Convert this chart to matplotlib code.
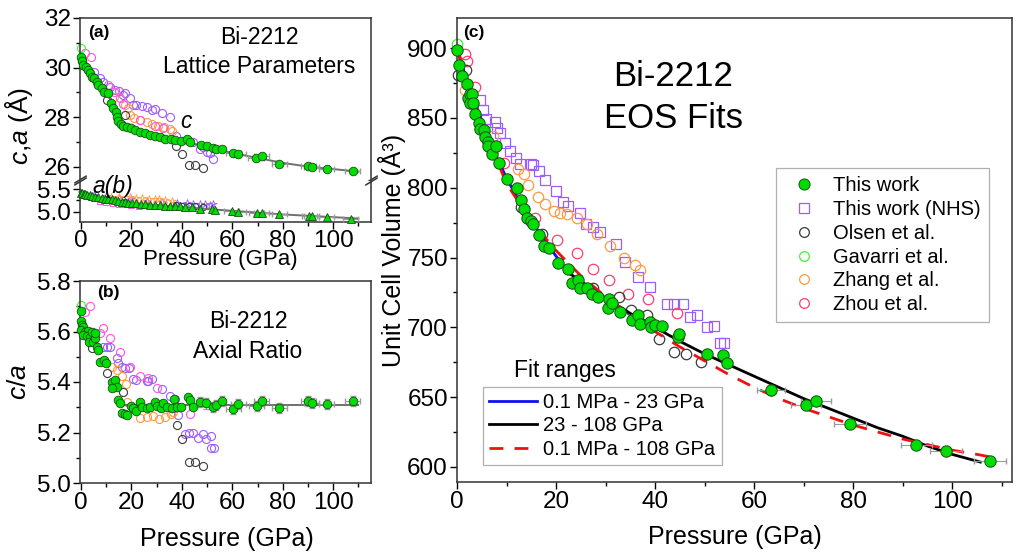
import numpy as np
import matplotlib
matplotlib.use('Agg')
import matplotlib.pyplot as plt
from matplotlib.ticker import MultipleLocator, FormatStrFormatter
from matplotlib.lines import Line2D

plt.rcParams['font.family'] = ['Liberation Sans', 'DejaVu Sans']
plt.rcParams['mathtext.fontset'] = 'custom'
plt.rcParams['mathtext.rm'] = 'Liberation Sans'
plt.rcParams['mathtext.it'] = 'Liberation Sans:italic'

W, H = 1024, 554

# ---------------- panel (a): c and a lattice parameters ----------------
c_tw_P = [0, 0.5, 0.9, 1.8, 2.6, 3.6, 4.2, 5.3, 6.2, 6.9, 8.2, 9.3, 10.8, 11.9, 12.8,
          13.8, 14.1, 14.8, 15.9, 16.8, 18.1, 19.8, 21.4, 23.4, 25.4, 27.4, 29.4, 31.3, 33.3, 35.7,
          37.3, 39.7, 41.9, 43.3, 47.6, 49.8, 52.5, 53.4, 55.8, 60.4, 62.4, 69.4, 71.7, 78.6, 90.2,
          91.5, 97.5, 107.7]
c_tw = [30.44, 30.27, 30.1, 30.03, 29.9, 29.77, 29.63, 29.56, 29.43, 29.29, 29.16, 29.02, 28.96, 28.55, 28.35,
        28.21, 28.01, 27.85, 27.74, 27.64, 27.58, 27.54, 27.47, 27.4, 27.34, 27.27, 27.23, 27.18, 27.1, 27.1,
        27.07, 27.04, 27.1, 27.0, 26.88, 26.82, 26.77, 26.71, 26.73, 26.53, 26.49, 26.33, 26.44, 26.1, 26.02,
        25.97, 25.9, 25.83]
c_nhs_P = [5.2, 7.5, 8.9, 11.5, 13.5, 15.0, 16.8, 17.5, 19.4, 20.7, 22.0, 24.0, 26.0, 28.0, 29.5,
           32.0, 35.3, 37.5, 41.9, 44.6, 47.2, 48.5, 49.9, 51.2, 52.5]
c_nhs = [29.8, 29.56, 29.43, 29.2, 29.1, 29.05, 28.89, 28.96, 28.76, 28.48, 28.48, 28.44, 28.39, 28.28, 28.31,
         28.17, 28.01, 27.25, 27.07, 27.0, 26.73, 26.8, 26.6, 26.53, 26.3]
c_zhang_P = [13.2, 17.5, 18.8, 19.4, 21.1, 23.4, 26.0, 28.3, 30.7, 33.0, 35.3, 36.0]
c_zhang = [28.82, 28.48, 28.35, 28.08, 27.95, 27.88, 27.81, 27.74, 27.64, 27.58, 27.5, 27.45]
c_zhou_P = [1.6, 3.8, 10.8, 13.2, 15.5, 16.8, 23.4, 29.4, 32.5]
c_zhou = [30.58, 30.42, 29.29, 29.02, 28.76, 28.52, 27.9, 27.62, 27.55]
c_olsen_P = [0.5, 10.2, 17.5, 37.5, 40.0, 42.8, 45.1, 48.3]
c_olsen = [30.3, 28.69, 28.08, 26.85, 26.5, 26.08, 26.06, 25.94]
c_gav_P = [0]
c_gav = [30.78]
c_fit_P = [0, 3, 6, 9, 11, 12, 13, 14, 15, 16, 18, 20, 25, 30, 35, 40, 50, 60, 70, 80, 90, 100, 110]
c_fit = [30.42, 29.95, 29.5, 29.12, 28.85, 28.6, 28.35, 28.12, 27.9, 27.72, 27.58, 27.5, 27.35, 27.22,
         27.12, 27.03, 26.8, 26.55, 26.35, 26.15, 26.0, 25.9, 25.8]

a_tw_P = [0, 0.5, 1.2, 1.6, 2.5, 3.6, 4.5, 5.6, 6.8, 8.2, 9.5, 10.8, 12.2, 13.5, 14.8,
          16.1, 17.4, 18.8, 20.4, 22.0, 23.8, 25.4, 27.4, 29.4, 31.4, 33.3, 35.3, 37.3, 39.3, 41.3,
          44.0, 47.2, 51.8, 53.2, 59.8, 62.4, 69.7, 71.7, 78.6, 90.6, 91.5, 97.5, 107.0]
a_tw = [5.42, 5.41, 5.40, 5.39, 5.38, 5.37, 5.35, 5.33, 5.32, 5.30, 5.29, 5.27, 5.27, 5.26, 5.24,
        5.22, 5.21, 5.20, 5.20, 5.19, 5.17, 5.16, 5.15, 5.15, 5.14, 5.13, 5.13, 5.13, 5.12, 5.11,
        5.10, 5.06, 5.05, 5.04, 5.02, 5.0, 4.98, 4.98, 4.94, 4.90, 4.90, 4.89, 4.85]
a_zhou_P = [0.8, 4.0, 7.5, 10.0, 12.5, 15.0, 17.5, 20.0, 23.0]
a_zhou = [5.40, 5.33, 5.24, 5.21, 5.19, 5.18, 5.16, 5.15, 5.13]
a_zhang_P = [12.0, 15.0, 19.4, 22.0, 24.0, 27.0, 29.4, 31.0, 33.3, 36.0]
a_zhang = [5.33, 5.33, 5.32, 5.31, 5.30, 5.29, 5.28, 5.27, 5.26, 5.24]
a_nhs_P = [5.0, 10.0, 15.0, 20.0, 26.0, 32.0, 38.0, 42.0, 44.6, 47.0, 49.0, 51.0, 52.5]
a_nhs = [5.38, 5.34, 5.31, 5.27, 5.24, 5.22, 5.19, 5.19, 5.18, 5.17, 5.18, 5.15, 5.16]
a_olsen_P = [0.5, 10.2, 17.5, 37.5, 40.0, 42.8, 45.1, 48.3]
a_olsen = [5.40, 5.29, 5.22, 5.14, 5.12, 5.13, 5.13, 5.11]
a_gav_P = [0]
a_gav = [5.40]
a_fit_P = [0, 10, 20, 30, 40, 50, 60, 70, 80, 90, 100, 110]
a_fit = [5.42, 5.28, 5.2, 5.15, 5.11, 5.06, 5.02, 4.98, 4.94, 4.91, 4.88, 4.85]

# ---------------- panel (b): c/a ----------------
r_tw_P = [0, 0, 0.3, 0.9, 0, 1.6, 2.6, 0.9, 2.3, 3.6, 3.2, 4.9, 5.6, 4.2, 5.6,
          6.2, 6.9, 7.5, 9.3, 9.8, 12.2, 13.5, 14.1, 12.4, 14.6, 15.5, 16.1, 17.5, 18.1, 19.8,
          20.8, 22.0, 23.4, 24.1, 26.0, 27.4, 29.4, 30.0, 31.7, 32.7, 34.0, 36.0, 37.0, 37.9, 39.7,
          42.3, 43.3, 44.6, 47.2, 49.6, 52.5, 53.4, 55.8, 60.4, 62.4, 69.7, 71.7, 78.6, 90.2, 91.5,
          97.5, 107.7]
r_tw = [5.682, 5.643, 5.626, 5.619, 5.606, 5.600, 5.603, 5.586, 5.582, 5.577, 5.560, 5.560, 5.573, 5.600, 5.593,
        5.540, 5.527, 5.480, 5.487, 5.474, 5.400, 5.407, 5.381, 5.375, 5.329, 5.316, 5.278, 5.273, 5.269, 5.305,
        5.296, 5.286, 5.322, 5.300, 5.296, 5.302, 5.322, 5.305, 5.296, 5.318, 5.300, 5.296, 5.331, 5.300, 5.300,
        5.339, 5.329, 5.300, 5.322, 5.315, 5.302, 5.309, 5.326, 5.292, 5.313, 5.306, 5.326, 5.296, 5.326, 5.318,
        5.313, 5.326]
r_nhs_P = [8.9, 10.2, 11.5, 14.2, 14.8, 16.1, 17.5, 19.1, 20.8, 22.0, 26.0, 26.7, 28.0, 32.0, 35.3,
           37.3, 38.6, 41.3, 43.0, 44.6, 46.5, 48.5, 49.6, 51.4, 51.6, 52.8]
r_nhs = [5.54, 5.537, 5.537, 5.494, 5.476, 5.46, 5.454, 5.454, 5.41, 5.408, 5.405, 5.405, 5.41, 5.372, 5.345,
         5.331, 5.269, 5.196, 5.2, 5.2, 5.18, 5.194, 5.173, 5.186, 5.137, 5.137]
r_zhou_P = [1.6, 3.6, 7.5, 8.9, 11.5, 15.5, 19.4, 23.4, 26.7, 30.0, 43.3]
r_zhou = [5.678, 5.70, 5.596, 5.613, 5.573, 5.52, 5.46, 5.424, 5.415, 5.377, 5.272]
r_zhang_P = [12.2, 14.1, 16.1, 17.9, 18.1, 22.0, 23.4, 26.0, 28.7, 31.0, 33.3, 35.6, 36.6]
r_zhang = [5.46, 5.448, 5.424, 5.392, 5.322, 5.296, 5.256, 5.263, 5.266, 5.252, 5.263, 5.273, 5.282]
r_olsen_P = [4.2, 10.2, 12.8, 16.8, 37.9, 40.0, 43.0, 45.2, 48.3]
r_olsen = [5.533, 5.434, 5.384, 5.362, 5.23, 5.174, 5.084, 5.082, 5.069]
r_gav_P = [0]
r_gav = [5.705]
r_fit_P = [15.5, 110]
r_fit = [5.31, 5.31]

# ---------------- panel (c): unit cell volume ----------------
V_tw_P = [0, 0.5, 1.1, 2.0, 2.3, 2.6, 2.7, 3.0, 3.2, 3.7, 4.4, 4.6, 5.5, 5.7, 6.2,
          6.3, 7.0, 7.9, 8.5, 10.0, 12.2, 12.9, 13.5, 14.1, 14.9, 15.4, 16.6, 17.6, 18.6, 20.3,
          22.5, 23.3, 24.5, 24.8, 26.2, 27.3, 28.5, 30.4, 30.7, 31.4, 32.9, 35.3, 36.6, 36.9, 39.0,
          39.1, 40.0, 41.4, 44.7, 44.9, 50.4, 53.7, 54.5, 63.4, 70.5, 72.5, 79.4, 92.8, 98.8, 107.7]
V_tw = [898.6, 888, 880, 874, 864, 867, 861, 867, 861, 853, 846.5, 842, 841.5, 836, 832.6,
        830, 824, 830, 817.5, 806, 799.5, 791.4, 784.7, 778, 776, 774, 766, 758, 756.7, 746.3,
        741.5, 732, 734, 728, 728, 724, 722, 714, 720, 717.5, 711, 705, 709, 702.4, 703.8,
        700, 701.4, 701, 693, 695, 681, 680, 674.6, 655, 644.5, 647.3, 630.5, 616, 611.7, 604.5]
V_tw_Perr = [0] * 50 + [1.0, 1.0, 1.0, 2.9, 3.0, 3.1, 3.2, 3.2, 3.2, 3.2]
V_nhs_P = [4.6, 5.2, 5.9, 7.7, 8.0, 8.7, 9.7, 10.7, 12.0, 12.7, 15.0, 15.4, 16.6, 17.8, 19.9,
           21.5, 22.5, 24.8, 26.0, 27.4, 28.9, 32.1, 34.0, 36.6, 39.0, 42.4, 43.9, 45.7, 47.0, 48.5,
           50.4, 52.0, 53.1, 54.0]
V_nhs = [862.6, 856, 849.4, 847, 843, 839, 832, 826.6, 821, 817, 817, 816.5, 811.7, 805.5, 797.4,
         789.5, 787, 781.8, 774, 772, 768.4, 760, 747, 736, 729, 716.7, 716.7, 716.7, 707.5, 708.6,
         700, 700.7, 688.7, 688.7]
V_olsen_P = [0.3, 1.8, 13.0, 17.1, 27.4, 32.7, 35.1, 38.4, 40.9, 43.9, 46.2, 49.2]
V_olsen = [881, 884, 786, 767, 728, 721.5, 712.5, 708.5, 692, 682, 681, 675]
V_gav_P = [0]
V_gav = [903]
V_zhang_P = [1.6, 7.3, 12.4, 13.5, 14.4, 16.3, 17.7, 19.5, 20.8, 22.3, 24.2, 26.3, 28.3, 30.9, 33.7, 36.0, 37.0]
V_zhang = [869.8, 837, 813.5, 810, 802, 793.5, 788.3, 783, 781.8, 781, 778, 774.3, 766.6, 758, 750, 745, 741]
V_zhou_P = [1.6, 2.0, 3.6, 9.4, 15.8, 20.1, 24.2, 27.5, 30.7, 34.6, 38.6, 44.4]
V_zhou = [896, 891, 872, 817.5, 778, 762.6, 753, 741.5, 734, 724, 720, 710]

fit1_P = [0, 2, 4, 6, 8, 10, 12, 14, 16, 18, 20, 22, 23]
fit1_V = [899, 877, 857, 839, 822, 807, 794, 782, 771, 761, 751, 742, 738]
fit2_P = [23, 25, 30, 35, 40, 45, 50, 55, 60, 65, 70, 75, 80, 85, 90, 95, 100, 105.7]
fit2_V = [738, 733, 721, 710, 700, 690, 681, 673, 665, 657, 649, 642, 635, 628, 622, 615, 609, 603.5]
fit3_P = [0, 5, 10, 15, 20, 25, 30, 35, 40, 45, 50, 55, 60, 65, 70, 75, 80, 85, 90, 95, 100, 105, 108.7]
fit3_V = [899, 846, 803, 776, 755, 737, 722, 709, 697, 686, 676, 666, 657, 649, 642, 636, 630, 625,
          620, 616, 612, 609, 606.5]

GREEN = '#00dd00'
NHS = '#9d5cff'
OLSEN = '#3a3a3a'
GAV = '#33ff33'
ZHANG = '#ff9a40'
ZHOU_AB = '#ff55dd'
ZHOU_C = '#ff3d6e'
ERR = '#9a9a9a'
FITG = '#707070'
TICK_FS = 17.5


def ax_box(l, t, r, b):
    return [l / W, 1 - b / H, (r - l) / W, (b - t) / H]


def style(ax):
    ax.tick_params(which='both', direction='out', top=False, right=False, labelsize=TICK_FS,
                   width=1.0, pad=1.5)
    ax.tick_params(which='major', length=5)
    ax.tick_params(which='minor', length=3)
    for s in ax.spines.values():
        s.set_linewidth(1.1)
        s.set_color('#333333')


def opn(ax, x, y, col, m='o', ms=5.8, mew=0.8):
    ax.plot(x, y, ls='none', marker=m, ms=ms, mfc='none', mec=col, mew=mew, zorder=2, clip_on=False)


fig = plt.figure(figsize=(W / 100, H / 100), dpi=100)

# ---- (a) broken axis: c on top, a(b) below ----
axu = fig.add_axes(ax_box(80, 18, 371, 179))
axl = fig.add_axes(ax_box(80, 181, 371, 222))
for ax in (axu, axl):
    style(ax)
    ax.set_xlim(-0.4, 115)
    ax.xaxis.set_major_locator(MultipleLocator(20))
    ax.xaxis.set_minor_locator(MultipleLocator(10))
axu.set_ylim(25.5, 32)
axu.yaxis.set_major_locator(MultipleLocator(2))
axu.yaxis.set_minor_locator(MultipleLocator(1))
axu.spines['bottom'].set_visible(False)
axu.tick_params(which='both', bottom=False, labelbottom=False)
axl.set_ylim(4.773, 5.678)
axl.yaxis.set_major_locator(MultipleLocator(0.5))
axl.yaxis.set_minor_locator(MultipleLocator(0.25))
axl.yaxis.set_major_formatter(FormatStrFormatter('%.1f'))
axl.spines['top'].set_visible(False)
axl.tick_params(axis='x', pad=0.5)

opn(axu, c_nhs_P, c_nhs, NHS)
opn(axu, c_zhang_P, c_zhang, ZHANG)
opn(axu, c_zhou_P, c_zhou, ZHOU_AB)
opn(axu, c_olsen_P, c_olsen, OLSEN)
opn(axu, c_gav_P, c_gav, GAV)
axu.plot(c_fit_P, c_fit, color=FITG, lw=1.4, zorder=3)
c_err = [3.0 if p > 58 else 0 for p in c_tw_P]
axu.errorbar(c_tw_P, c_tw, xerr=c_err, fmt='none', ecolor=ERR, elinewidth=0.8, capsize=2, zorder=3)
axu.plot(c_tw_P, c_tw, ls='none', marker='o', ms=6.2, mfc=GREEN, mec='#1a4d1a', mew=0.6, zorder=4,
         clip_on=False)

opn(axl, a_nhs_P, a_nhs, NHS, m='*', ms=5.5, mew=0.6)
opn(axl, a_zhang_P, a_zhang, ZHANG, m='*', ms=5.5, mew=0.6)
opn(axl, a_zhou_P, a_zhou, ZHOU_AB, m='s', ms=4.5, mew=0.7)
opn(axl, a_olsen_P, a_olsen, OLSEN, ms=4.5)
opn(axl, a_gav_P, a_gav, GAV, m='v', ms=4.5)
axl.plot(a_fit_P, a_fit, color=FITG, lw=1.4, zorder=3)
a_err = [3.0 if p > 58 else 0 for p in a_tw_P]
axl.errorbar(a_tw_P, a_tw, xerr=a_err, fmt='none', ecolor=ERR, elinewidth=0.8, capsize=2, zorder=3)
axl.plot(a_tw_P, a_tw, ls='none', marker='^', ms=6.0, mfc=GREEN, mec='#1a4d1a', mew=0.6, zorder=4,
         clip_on=False)

# break marks
kw = dict(marker=[(-1, -0.6), (1, 0.6)], markersize=9, linestyle='none', color='#333333',
          mec='#333333', mew=1.1, clip_on=False)
axu.plot([0, 1], [0, 0], transform=axu.transAxes, **kw)
axl.plot([0, 1], [1, 1], transform=axl.transAxes, **kw)

fig.text(88 / W, 1 - 33 / H, '(a)', fontsize=12.5, fontweight='bold', va='center', ha='left')
fig.text(259 / W, 1 - 37 / H, 'Bi-2212', fontsize=16.5, ha='center', va='center')
fig.text(259 / W, 1 - 67 / H, 'Lattice Parameters', fontsize=16.5, ha='center', va='center')
fig.text(186 / W, 1 - 121 / H, 'c', fontsize=16.5, style='italic', ha='center', va='center')
fig.text(113 / W, 1 - 187 / H, 'a(b)', fontsize=16.5, style='italic', ha='center', va='center')
fig.text(19 / W, 1 - 126 / H, r'$\mathit{c}$,$\mathit{a}$ (Å)', fontsize=19, rotation=90,
         ha='center', va='center')
fig.text(220 / W, 1 - 260 / H, 'Pressure (GPa)', fontsize=16, ha='center', va='center')

# ---- (b) c/a ----
axb = fig.add_axes(ax_box(80, 281, 371, 483))
style(axb)
axb.set_xlim(-0.4, 115)
axb.set_ylim(5.0, 5.8)
axb.xaxis.set_major_locator(MultipleLocator(20))
axb.xaxis.set_minor_locator(MultipleLocator(10))
axb.yaxis.set_major_locator(MultipleLocator(0.2))
axb.yaxis.set_minor_locator(MultipleLocator(0.1))
opn(axb, r_nhs_P, r_nhs, NHS)
opn(axb, r_zhang_P, r_zhang, ZHANG)
opn(axb, r_zhou_P, r_zhou, ZHOU_AB)
opn(axb, r_olsen_P, r_olsen, OLSEN)
opn(axb, r_gav_P, r_gav, GAV)
axb.plot(r_fit_P, r_fit, color=FITG, lw=1.4, zorder=3)
r_xerr = [3.0 if p > 58 else 0 for p in r_tw_P]
r_yerr = [0.02 if p > 45 else 0 for p in r_tw_P]
axb.errorbar(r_tw_P, r_tw, xerr=r_xerr, yerr=r_yerr, fmt='none', ecolor=ERR, elinewidth=0.8,
             capsize=2, zorder=3)
axb.plot(r_tw_P, r_tw, ls='none', marker='o', ms=6.2, mfc=GREEN, mec='#1a4d1a', mew=0.6, zorder=4,
         clip_on=False)

fig.text(97 / W, 1 - 293 / H, '(b)', fontsize=12.5, fontweight='bold', va='center', ha='left')
fig.text(248 / W, 1 - 322 / H, 'Bi-2212', fontsize=16.5, ha='center', va='center')
fig.text(248 / W, 1 - 352 / H, 'Axial Ratio', fontsize=16.5, ha='center', va='center')
fig.text(19 / W, 1 - 382 / H, r'$\mathit{c/a}$', fontsize=19, rotation=90, ha='center', va='center')
fig.text(227 / W, 1 - 539 / H, 'Pressure (GPa)', fontsize=18, ha='center', va='center')

# ---- (c) V ----
axc = fig.add_axes(ax_box(457, 18, 1012, 482))
style(axc)
axc.set_xlim(0, 112.1)
axc.set_ylim(589.2, 921.6)
axc.xaxis.set_major_locator(MultipleLocator(20))
axc.xaxis.set_minor_locator(MultipleLocator(10))
axc.yaxis.set_major_locator(MultipleLocator(50))
axc.yaxis.set_minor_locator(MultipleLocator(25))

opn(axc, V_nhs_P, V_nhs, NHS, m='s', ms=7.0, mew=0.9)
opn(axc, V_zhang_P, V_zhang, ZHANG, ms=7.5, mew=0.9)
opn(axc, V_zhou_P, V_zhou, ZHOU_C, ms=7.5, mew=0.9)
opn(axc, V_olsen_P, V_olsen, OLSEN, ms=7.5, mew=0.9)
opn(axc, V_gav_P, V_gav, GAV, ms=7.5, mew=0.9)
axc.plot(fit1_P, fit1_V, color='#1010ee', lw=2.0, zorder=3)
axc.plot(fit2_P, fit2_V, color='black', lw=2.0, zorder=3)
axc.plot(fit3_P, fit3_V, color='#ee1111', lw=2.0, ls=(0, (5, 4)), zorder=3)
axc.errorbar(V_tw_P, V_tw, xerr=V_tw_Perr, fmt='none', ecolor=ERR, elinewidth=0.8, capsize=2, zorder=3)
axc.plot(V_tw_P, V_tw, ls='none', marker='o', ms=8.2, mfc=GREEN, mec='#1a4d1a', mew=0.7, zorder=4,
         clip_on=False)

fig.text(463 / W, 1 - 33 / H, '(c)', fontsize=12.5, fontweight='bold', va='center', ha='left')
fig.text(673 / W, 1 - 76 / H, 'Bi-2212', fontsize=25, ha='center', va='center')
fig.text(673 / W, 1 - 119 / H, 'EOS Fits', fontsize=25, ha='center', va='center')
fig.text(392 / W, 1 - 250 / H, 'Unit Cell Volume (Å³)', fontsize=18, rotation=90, ha='center', va='center')
fig.text(735 / W, 1 - 537 / H, 'Pressure (GPa)', fontsize=18, ha='center', va='center')

h1 = [
    Line2D([], [], ls='none', marker='o', ms=8, mfc=GREEN, mec='#1a4d1a', mew=0.7, label='This work'),
    Line2D([], [], ls='none', marker='s', ms=6.5, mfc='none', mec=NHS, mew=0.9, label='This work (NHS)'),
    Line2D([], [], ls='none', marker='o', ms=7, mfc='none', mec=OLSEN, mew=0.9, label='Olsen et al.'),
    Line2D([], [], ls='none', marker='o', ms=7, mfc='none', mec=GAV, mew=0.9, label='Gavarri et al.'),
    Line2D([], [], ls='none', marker='o', ms=7, mfc='none', mec=ZHANG, mew=0.9, label='Zhang et al.'),
    Line2D([], [], ls='none', marker='o', ms=7, mfc='none', mec=ZHOU_C, mew=0.9, label='Zhou et al.'),
]
leg1 = axc.legend(handles=h1, loc='upper left', bbox_to_anchor=(776 / W, 1 - 168 / H),
                  bbox_transform=fig.transFigure, fontsize=14.5, frameon=True, fancybox=False,
                  edgecolor='#b0b0b0', framealpha=1, borderpad=0.4, labelspacing=0.24,
                  handletextpad=0.45, handlelength=2.0, borderaxespad=0)
leg1.get_frame().set_linewidth(0.9)
axc.add_artist(leg1)

h2 = [
    Line2D([], [], color='#1010ee', lw=2.0, label='0.1 MPa - 23 GPa'),
    Line2D([], [], color='black', lw=2.0, label='23 - 108 GPa'),
    Line2D([], [], color='#ee1111', lw=2.0, ls=(0, (5, 4)), label='0.1 MPa - 108 GPa'),
]
leg2 = axc.legend(handles=h2, loc='upper left', bbox_to_anchor=(483 / W, 1 - 387 / H),
                  bbox_transform=fig.transFigure, fontsize=14.5, frameon=True, fancybox=False,
                  edgecolor='#b0b0b0', framealpha=1, borderpad=0.3, labelspacing=0.22,
                  handletextpad=0.3, handlelength=2.4, borderaxespad=0)
leg2.get_frame().set_linewidth(0.9)
fig.text(565 / W, 1 - 370 / H, 'Fit ranges', fontsize=16.5, ha='center', va='center')

fig.savefig('out.png', dpi=100, facecolor='white')
